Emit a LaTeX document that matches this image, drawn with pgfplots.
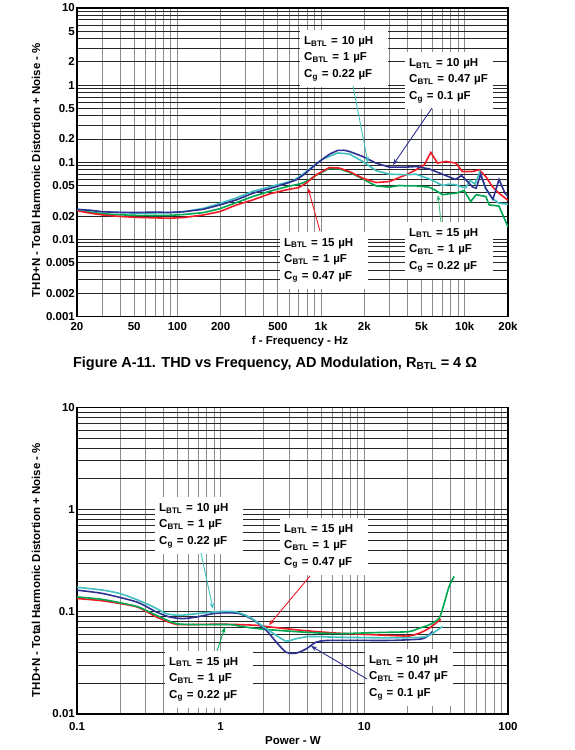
\documentclass[border=0pt]{standalone}
\usepackage{fontspec}
\setmainfont{Liberation Sans}
\usepackage{pgfplots}
\pgfplotsset{compat=1.18}
\usetikzlibrary{arrows.meta}

\definecolor{cBlue}{RGB}{46,49,146}
\definecolor{cCyan}{RGB}{64,192,192}
\definecolor{cRed}{RGB}{237,28,36}
\definecolor{cGreen}{RGB}{0,166,81}

\newcommand{\sub}[1]{\textsubscript{#1}}
\newcommand{\annot}[3]{L\sub{BTL} = #1 µH\\C\sub{BTL} = #2 µF\\C\sub{g} = #3 µF}
\newcommand{\lblfont}{\fontsize{11.5bp}{13bp}\selectfont\bfseries}

\tikzset{
  thdbox/.style={fill=white, inner xsep=4bp, inner ysep=6bp, text width=80bp, align=left,
    anchor=north west, font=\fontsize{11.5bp}{16.5bp}\selectfont\bfseries},
  thdarr/.style={line width=0.9bp, -{Stealth[length=6bp,width=4.5bp]}},
}

\begin{document}
\begin{tikzpicture}
\path[use as bounding box] (0,0) rectangle (575bp,-750bp);

% ---------------- Chart 1 ----------------
\begin{axis}[
  scale only axis, xmode=log, ymode=log, width=431bp, height=308.5bp,
  at={(77bp,-316.5bp)}, anchor=south west,
  axis line style={black, line width=1.1bp},
  grid=both,
  x grid style={black!45, line width=1bp},
  y grid style={black!85, line width=0.95bp},
  major tick length=0pt, minor tick length=0pt,
  tick label style={font=\lblfont},
  xlabel style={font=\lblfont},
  ylabel style={font=\lblfont},
  yticklabel style={inner xsep=2bp},
  xmin=20, xmax=20000, ymin=0.001, ymax=10,
  xtick={20,50,100,200,500,1000,2000,5000,10000,20000},
  xticklabels={20,50,100,200,500,1k,2k,5k,10k,20k},
  minor xtick={30,40,60,70,80,90,300,400,600,700,800,900,3000,4000,6000,7000,8000,9000},
  ytick={0.001,0.002,0.005,0.01,0.02,0.05,0.1,0.2,0.5,1,2,5,10},
  yticklabels={0.001,0.002,0.005,0.01,0.02,0.05,0.1,0.2,0.5,1,2,5,10},
  minor ytick={0.003,0.004,0.006,0.007,0.008,0.009,0.03,0.04,0.06,0.07,0.08,0.09,0.3,0.4,0.6,0.7,0.8,0.9,3,4,6,7,8,9},
  xticklabel style={yshift=-2.5bp},
  xlabel={f - Frequency - Hz},
  ylabel={THD+N - Total Harmonic Distortion + Noise - \%},
  xlabel style={at={(rel axis cs:0.5,0)}, anchor=center, yshift=-25.5bp, xshift=7.5bp},
  ylabel style={at={(rel axis cs:0,0.5)}, anchor=center, xshift=-7.75bp, yshift=41bp},
]
% green: 15uH, 1uF, 0.22uF
\addplot[line width=1.6bp, cGreen] coordinates {
(20,0.024)(25,0.0225)(30,0.0215)(40,0.0208)(52,0.0205)(70,0.0204)(88,0.0205)(110,0.021)
(151,0.0222)(197,0.025)(257,0.030)(335,0.0360)(438,0.0420)(571,0.0480)(700,0.0520)
(787,0.0560)(924,0.068)(1143,0.083)(1340,0.082)(1574,0.074)(1946,0.061)(2166,0.0546)
(2410,0.0494)(2986,0.0475)(3500,0.050)(3894,0.0494)(4570,0.0494)(5654,0.0475)(6290,0.043)
(6996,0.0380)(7780,0.039)(8670,0.0397)(9900,0.043)(11000,0.031)(12000,0.038)(14000,0.036)
(14800,0.028)(17300,0.027)(20000,0.0145)};
% red: 15uH, 1uF, 0.47uF
\addplot[line width=1.6bp, cRed] coordinates {
(20,0.0235)(25,0.0218)(30.5,0.0207)(40,0.0198)(52,0.0193)(70,0.0190)(88.5,0.0188)(110,0.0192)
(151,0.0207)(197,0.0229)(257,0.0279)(335,0.0325)(438,0.0389)(571,0.0438)(700,0.0470)
(787,0.0536)(924,0.0687)(1143,0.0855)(1340,0.084)(1574,0.0758)(1946,0.0622)(2410,0.0546)
(2986,0.0562)(3894,0.0687)(4570,0.0798)(5230,0.0927)(5800,0.134)(6460,0.0975)(7380,0.1025)
(8670,0.0975)(9632,0.0758)(11300,0.0758)(12580,0.0798)(14000,0.0653)(15560,0.0484)
(17320,0.0397)(20000,0.032)};
% cyan: 10uH, 1uF, 0.22uF
\addplot[line width=1.6bp, cCyan] coordinates {
(20,0.0245)(25,0.0236)(30,0.0228)(40,0.0222)(52,0.0219)(70,0.0220)(88,0.0222)(110,0.0228)
(151,0.0252)(197,0.0292)(257,0.0345)(335,0.0420)(438,0.0480)(571,0.0545)(636,0.0574)
(700,0.064)(830,0.0815)(1028,0.110)(1306,0.132)(1574,0.128)(1946,0.1025)(2410,0.078)
(2986,0.0700)(3894,0.0690)(4570,0.0700)(5654,0.0610)(6996,0.0500)(7800,0.052)(8670,0.051)
(9632,0.0475)(10170,0.047)(10900,0.058)(11800,0.052)(12700,0.075)(14000,0.045)(15560,0.034)
(17320,0.0294)(20000,0.0285)};
% blue: 10uH, 0.47uF, 0.1uF
\addplot[line width=1.6bp, cBlue] coordinates {
(20,0.0245)(25,0.0238)(30,0.0228)(40,0.0224)(52,0.0223)(70,0.0226)(88,0.0223)(110,0.0228)
(151,0.0245)(197,0.0279)(257,0.0325)(335,0.0397)(438,0.0455)(571,0.0530)(671,0.0591)
(750,0.068)(830,0.0798)(974,0.1025)(1150,0.128)(1306,0.1425)(1450,0.143)(1574,0.138)
(1946,0.119)(2410,0.0975)(2986,0.0865)(3894,0.0865)(4570,0.088)(5654,0.082)(6996,0.070)
(8600,0.060)(9500,0.067)(10400,0.057)(11300,0.048)(12000,0.046)(12900,0.070)(14000,0.046)
(15700,0.033)(17320,0.060)(19000,0.040)(20000,0.036)};

\node[thdbox] at (rel axis cs:0.5174,0.9287) {\annot{10}{1}{0.22}};
\node[thdbox] at (rel axis cs:0.7610,0.8574) {\annot{10}{0.47}{0.1}};
\node[thdbox] at (rel axis cs:0.4710,0.2739) {\annot{15}{1}{0.47}};
\node[thdbox] at (rel axis cs:0.7610,0.3063) {\annot{15}{1}{0.22}};
\draw[thdarr, cCyan] (rel axis cs:0.6404,0.7472) -- (rel axis cs:0.6752,0.4976);
\draw[thdarr, cBlue] (rel axis cs:0.8237,0.6758) -- (rel axis cs:0.7332,0.4911);
\draw[thdarr, cRed] (rel axis cs:0.5638,0.2771) -- (rel axis cs:0.5360,0.4165);
\draw[thdarr, cGreen!75!white] (rel axis cs:0.8445,0.3063) -- (rel axis cs:0.8376,0.3938);
\end{axis}

% caption
\node[font=\fontsize{14.5bp}{17bp}\selectfont\bfseries, anchor=center] at (275bp,-364bp)
  {Figure A-11. THD vs Frequency, AD Modulation, R\sub{BTL} = 4 Ω};

% ---------------- Chart 2 ----------------
\begin{axis}[
  scale only axis, xmode=log, ymode=log, width=431bp, height=306.5bp,
  at={(77bp,-714bp)}, anchor=south west,
  axis line style={black, line width=1.1bp},
  grid=both,
  x grid style={black!45, line width=1bp},
  y grid style={black!85, line width=0.95bp},
  major tick length=0pt, minor tick length=0pt,
  tick label style={font=\lblfont},
  xlabel style={font=\lblfont},
  ylabel style={font=\lblfont},
  yticklabel style={inner xsep=2bp},
  xmin=0.1, xmax=100, ymin=0.01, ymax=10,
  xtick={0.1,1,10,100}, xticklabels={0.1,1,10,100},
  minor xtick={0.2,0.3,0.4,0.5,0.6,0.7,0.8,0.9,2,3,4,5,6,7,8,9,20,30,40,50,60,70,80,90},
  ytick={0.01,0.1,1,10}, yticklabels={0.01,0.1,1,10},
  minor ytick={0.02,0.03,0.04,0.05,0.06,0.07,0.08,0.09,0.2,0.3,0.4,0.5,0.6,0.7,0.8,0.9,2,3,4,5,6,7,8,9},
  xticklabel style={yshift=-5bp},
  xlabel={Power - W},
  ylabel={THD+N - Total Harmonic Distortion + Noise - \%},
  xlabel style={at={(rel axis cs:0.5,0)}, anchor=center, yshift=-27bp, xshift=0.5bp},
  ylabel style={at={(rel axis cs:0,0.5)}, anchor=center, xshift=-9.25bp, yshift=41bp},
]
% red: 15uH, 1uF, 0.47uF
\addplot[line width=1.6bp, cRed, smooth, tension=0.4] coordinates {
(0.1,0.135)(0.152,0.128)(0.26,0.112)(0.357,0.089)(0.493,0.0755)(0.754,0.0755)(1.155,0.0755)
(1.77,0.0738)(2.44,0.070)(3.73,0.0658)(6.36,0.062)(14.9,0.0588)(20.4,0.058)(24.1,0.0618)
(28.3,0.0692)(34.1,0.0848)};
% green: 15uH, 1uF, 0.22uF
\addplot[line width=1.6bp, cGreen, smooth, tension=0.4] coordinates {
(0.1,0.140)(0.152,0.132)(0.26,0.113)(0.357,0.0925)(0.493,0.0766)(0.754,0.075)(1.155,0.075)
(1.59,0.070)(2.19,0.0668)(3.73,0.0634)(6.36,0.0612)(12.7,0.0628)(20.4,0.064)(24.1,0.0692)
(28.3,0.0746)(33.2,0.0867)(36,0.1216)(38.9,0.177)(42.2,0.222)};
% blue: 10uH, 0.47uF, 0.1uF
\addplot[line width=1.6bp, cBlue, smooth, tension=0.4] coordinates {
(0.1,0.163)(0.152,0.151)(0.26,0.125)(0.357,0.0997)(0.442,0.089)(0.547,0.0859)(0.678,0.089)
(0.885,0.096)(1.095,0.098)(1.35,0.096)(1.68,0.0839)(2.08,0.0658)(2.44,0.0505)(2.86,0.0402)
(3.35,0.0394)(3.94,0.0434)(4.62,0.0505)(5.71,0.0525)(14.9,0.0525)(24.1,0.054)(26.8,0.0563)
(29.8,0.064)};
% cyan: 10uH, 1uF, 0.22uF
\addplot[line width=1.6bp, cCyan, smooth, tension=0.4] coordinates {
(0.1,0.174)(0.152,0.163)(0.199,0.151)(0.26,0.132)(0.339,0.112)(0.42,0.096)(0.519,0.0925)
(0.678,0.096)(0.885,0.0997)(1.095,0.101)(1.285,0.0997)(1.59,0.089)(1.97,0.0721)(2.44,0.0588)
(2.86,0.0517)(3.35,0.0545)(4.15,0.0574)(6.36,0.0565)(14.9,0.0556)(24.1,0.0563)(28.3,0.0588)
(35,0.0718)};

\node[thdbox] at (rel axis cs:0.1810,0.7080) {\annot{10}{1}{0.22}};
\node[thdbox] at (rel axis cs:0.4710,0.6395) {\annot{15}{1}{0.47}};
\node[thdbox] at (rel axis cs:0.2042,0.2055) {\annot{15}{1}{0.22}};
\node[thdbox] at (rel axis cs:0.6682,0.2121) {\annot{10}{0.47}{0.1}};
\draw[thdarr, cCyan] (rel axis cs:0.2877,0.5253) -- (rel axis cs:0.3155,0.3426);
\draw[thdarr, cRed] (rel axis cs:0.5406,0.4502) -- (rel axis cs:0.4455,0.2904);
\draw[thdarr, cGreen] (rel axis cs:0.3248,0.2055) -- (rel axis cs:0.3434,0.2838);
\draw[thdarr, cBlue] (rel axis cs:0.6729,0.1142) -- (rel axis cs:0.5429,0.2219);
\end{axis}
\end{tikzpicture}
\end{document}
